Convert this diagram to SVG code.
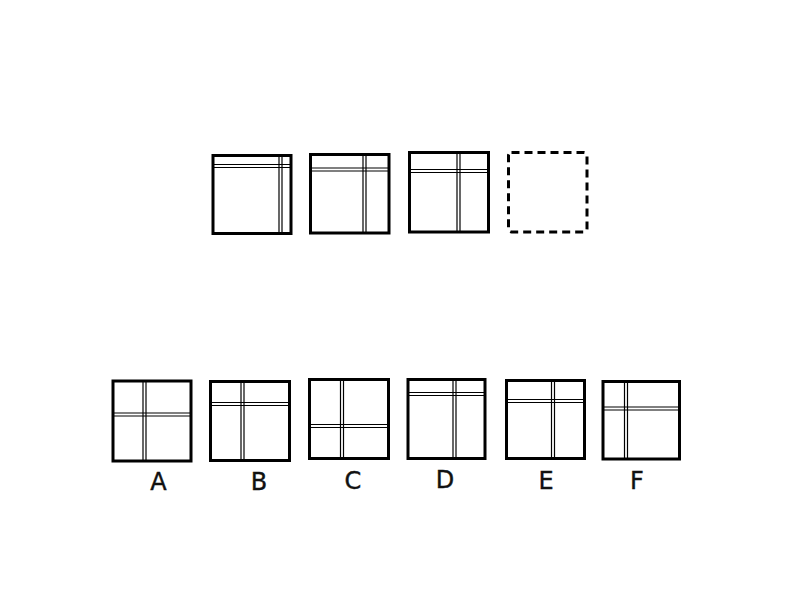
<svg xmlns="http://www.w3.org/2000/svg" width="801" height="601" viewBox="0 0 801 601">
<style>
.box{fill:none;stroke:#000;stroke-width:3}
.dash{fill:none;stroke:#000;stroke-width:3;stroke-dasharray:8 5}
.dl{stroke:#000;stroke-width:1.2}
.lbl{font-family:"DejaVu Sans",Verdana,sans-serif;font-size:24px;fill:#111;stroke:#111;stroke-width:0.4;text-anchor:middle}
</style>
<rect width="801" height="601" fill="#fff"/>
<g id="q1">
<rect class="box" x="213" y="155.5" width="78" height="78"/>
<line class="dl" x1="213" y1="164.5" x2="291" y2="164.5"/><line class="dl" x1="213" y1="167.5" x2="291" y2="167.5"/>
<line class="dl" x1="279" y1="155.5" x2="279" y2="233.5"/><line class="dl" x1="282" y1="155.5" x2="282" y2="233.5"/>
</g>
<g id="q2">
<rect class="box" x="310.5" y="154.5" width="78.5" height="78.5"/>
<line class="dl" x1="310.5" y1="168" x2="389" y2="168"/><line class="dl" x1="310.5" y1="171" x2="389" y2="171"/>
<line class="dl" x1="363" y1="154.5" x2="363" y2="233"/><line class="dl" x1="366" y1="154.5" x2="366" y2="233"/>
</g>
<g id="q3">
<rect class="box" x="409.5" y="152.5" width="79" height="79.5"/>
<line class="dl" x1="409.5" y1="169.5" x2="488.5" y2="169.5"/><line class="dl" x1="409.5" y1="172.5" x2="488.5" y2="172.5"/>
<line class="dl" x1="457" y1="152.5" x2="457" y2="232"/><line class="dl" x1="460" y1="152.5" x2="460" y2="232"/>
</g>
<g id="q4">
<rect class="dash" x="508.5" y="152.5" width="78.5" height="79.5" rx="3"/>
</g>
<g id="optA">
<rect class="box" x="113" y="381" width="78" height="80"/>
<line class="dl" x1="143" y1="381" x2="143" y2="461"/><line class="dl" x1="146" y1="381" x2="146" y2="461"/>
<line class="dl" x1="113" y1="413" x2="191" y2="413"/><line class="dl" x1="113" y1="416" x2="191" y2="416"/>
<text class="lbl" x="158.5" y="490">A</text>
</g>
<g id="optB">
<rect class="box" x="210.5" y="381.5" width="79" height="79"/>
<line class="dl" x1="241" y1="381.5" x2="241" y2="460.5"/><line class="dl" x1="244" y1="381.5" x2="244" y2="460.5"/>
<line class="dl" x1="210.5" y1="402.5" x2="289.5" y2="402.5"/><line class="dl" x1="210.5" y1="405.5" x2="289.5" y2="405.5"/>
<text class="lbl" x="259" y="490">B</text>
</g>
<g id="optC">
<rect class="box" x="309.5" y="379.5" width="79" height="79"/>
<line class="dl" x1="340.5" y1="379.5" x2="340.5" y2="458.5"/><line class="dl" x1="343.5" y1="379.5" x2="343.5" y2="458.5"/>
<line class="dl" x1="309.5" y1="424.5" x2="388.5" y2="424.5"/><line class="dl" x1="309.5" y1="427.5" x2="388.5" y2="427.5"/>
<text class="lbl" x="353" y="489">C</text>
</g>
<g id="optD">
<rect class="box" x="408" y="379.5" width="77" height="79"/>
<line class="dl" x1="453" y1="379.5" x2="453" y2="458.5"/><line class="dl" x1="456" y1="379.5" x2="456" y2="458.5"/>
<line class="dl" x1="408" y1="392.5" x2="485" y2="392.5"/><line class="dl" x1="408" y1="395.5" x2="485" y2="395.5"/>
<text class="lbl" x="445" y="488">D</text>
</g>
<g id="optE">
<rect class="box" x="506.5" y="380.5" width="78" height="78"/>
<line class="dl" x1="551.5" y1="380.5" x2="551.5" y2="458.5"/><line class="dl" x1="554.5" y1="380.5" x2="554.5" y2="458.5"/>
<line class="dl" x1="506.5" y1="399.5" x2="584.5" y2="399.5"/><line class="dl" x1="506.5" y1="402.5" x2="584.5" y2="402.5"/>
<text class="lbl" x="546" y="489">E</text>
</g>
<g id="optF">
<rect class="box" x="603" y="381.5" width="76.5" height="77.5"/>
<line class="dl" x1="624.5" y1="381.5" x2="624.5" y2="459"/><line class="dl" x1="627.5" y1="381.5" x2="627.5" y2="459"/>
<line class="dl" x1="603" y1="407" x2="679.5" y2="407"/><line class="dl" x1="603" y1="410" x2="679.5" y2="410"/>
<text class="lbl" x="637" y="489">F</text>
</g>
<g id="connectors"/>
</svg>
